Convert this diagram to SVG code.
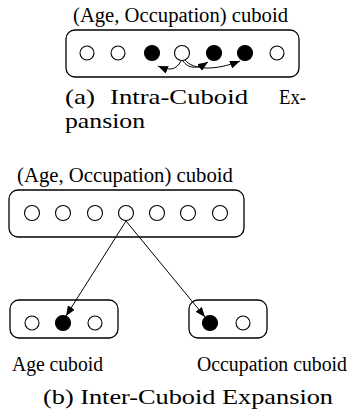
<svg xmlns="http://www.w3.org/2000/svg" width="357" height="411" viewBox="0 0 357 411">
  <defs>
    <marker id="arrow" viewBox="0 0 10 10" refX="10" refY="5" markerWidth="10" markerHeight="8" markerUnits="userSpaceOnUse" orient="auto" preserveAspectRatio="none">
      <path d="M0,0 L10,5 L0,10 z" fill="#000"/>
    </marker>
  </defs>
  <style>
    .box { fill: #fff; stroke: #000; stroke-width: 1.3; }
    .dot { fill: #fff; stroke: #000; stroke-width: 1.1; }
    .dot.on { fill: #000; }
    .lbl { font-family: "Liberation Serif", "Times New Roman", serif; font-size: 20px; fill: #000; }
    .cap { font-family: "Liberation Serif", "Times New Roman", serif; font-size: 21px; fill: #000; }
    .edge { fill: none; stroke: #000; stroke-width: 1; }
  </style>

  <rect width="357" height="411" fill="#fff"/>

  <!-- (a) intra-cuboid expansion -->
  <g id="cuboid-a">
    <text class="lbl" x="73" y="22" textLength="215" lengthAdjust="spacingAndGlyphs">(Age, Occupation) cuboid</text>
    <rect class="box" x="66" y="30" width="233" height="47" rx="9"/>
    <circle class="dot" cx="87" cy="53" r="7"/>
    <circle class="dot" cx="118" cy="53" r="7"/>
    <circle class="dot on" cx="152" cy="53" r="7.5"/>
    <circle class="dot" cx="182" cy="53" r="7.5"/>
    <circle class="dot on" cx="214" cy="53" r="7.5"/>
    <circle class="dot on" cx="245" cy="53" r="7.5"/>
    <circle class="dot" cx="277" cy="53" r="7"/>
  </g>
  <g id="caption-a">
    <text class="cap" x="65" y="104" textLength="30" lengthAdjust="spacingAndGlyphs">(a)</text>
    <text class="cap" x="110" y="104" textLength="138" lengthAdjust="spacingAndGlyphs">Intra-Cuboid</text>
    <text class="cap" x="279" y="104" textLength="27" lengthAdjust="spacingAndGlyphs">Ex-</text>
    <text class="cap" x="65" y="128" textLength="80" lengthAdjust="spacingAndGlyphs">pansion</text>
  </g>

  <!-- (b) inter-cuboid expansion -->
  <g id="cuboid-ao">
    <text class="lbl" x="17" y="182" textLength="216" lengthAdjust="spacingAndGlyphs">(Age, Occupation) cuboid</text>
    <rect class="box" x="9" y="190" width="235" height="47" rx="9"/>
    <circle class="dot" cx="32" cy="213" r="7.5"/>
    <circle class="dot" cx="63" cy="213" r="7.5"/>
    <circle class="dot" cx="95" cy="213" r="7.5"/>
    <circle class="dot" cx="126" cy="213" r="7.5"/>
    <circle class="dot" cx="157" cy="213" r="7.5"/>
    <circle class="dot" cx="188" cy="213" r="7.5"/>
    <circle class="dot" cx="220" cy="213" r="7.5"/>
  </g>
  <g id="cuboid-age">
    <rect class="box" x="10" y="300" width="108" height="38" rx="9"/>
    <circle class="dot" cx="32" cy="323" r="7"/>
    <circle class="dot on" cx="63" cy="323" r="7.5"/>
    <circle class="dot" cx="95" cy="323" r="7"/>
    <text class="lbl" x="12" y="371" textLength="91" lengthAdjust="spacingAndGlyphs">Age cuboid</text>
  </g>
  <g id="cuboid-occupation">
    <rect class="box" x="189" y="300" width="78" height="38" rx="9"/>
    <circle class="dot on" cx="210" cy="323" r="7.5"/>
    <circle class="dot" cx="243" cy="323" r="7"/>
    <text class="lbl" x="197" y="371" textLength="150" lengthAdjust="spacingAndGlyphs">Occupation cuboid</text>
  </g>
  <g id="caption-b">
    <text class="cap" x="43" y="404" textLength="290" lengthAdjust="spacingAndGlyphs">(b) Inter-Cuboid Expansion</text>
  </g>

  <g id="connectors">
    <!-- intra-cuboid moves -->
    <path class="edge" d="M181,61 C176,70 170,71 158,66" marker-end="url(#arrow)"/>
    <path class="edge" d="M183,61 C188,68 196,70 208,62" marker-end="url(#arrow)"/>
    <path class="edge" d="M185,60 C193,70 215,71 240,61" marker-end="url(#arrow)"/>
    <!-- inter-cuboid moves -->
    <path class="edge" d="M126,221 L66,316" marker-end="url(#arrow)"/>
    <path class="edge" d="M126,221 L205,317" marker-end="url(#arrow)"/>
  </g>
</svg>
